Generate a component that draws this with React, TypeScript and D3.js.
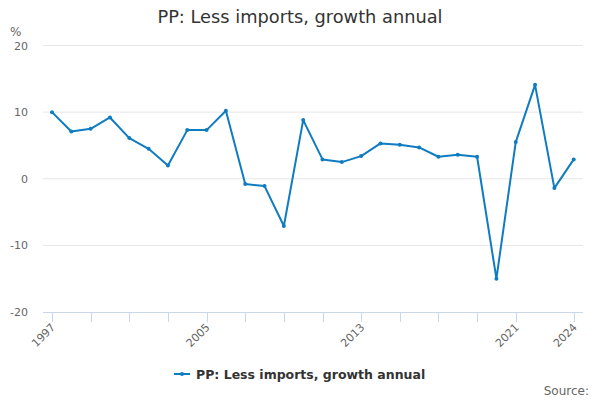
import React from "react";
import * as d3 from "d3";

const years = [1997,1998,1999,2000,2001,2002,2003,2004,2005,2006,2007,2008,2009,2010,2011,2012,2013,2014,2015,2016,2017,2018,2019,2020,2021,2022,2023,2024];
const values = [10.0,7.1,7.5,9.2,6.1,4.5,2.0,7.3,7.3,10.2,-0.8,-1.1,-7.1,8.8,2.9,2.5,3.4,5.3,5.1,4.7,3.3,3.6,3.3,-15.0,5.5,14.1,-1.4,2.9];
const yTicks = [-20,-10,0,10,20];
const xTickYears = [1997,1999,2001,2003,2005,2007,2009,2011,2013,2015,2017,2019,2021,2024];
const xLabelYears = [1997,2005,2013,2021,2024];
const title = "PP: Less imports, growth annual";
const seriesName = "PP: Less imports, growth annual";

const W = 600, H = 400;
const font = "'DejaVu Sans', sans-serif";
const color = "#0f7cc1";

export default function App() {
  const x = d3.scaleLinear().domain([1997, 2024]).range([52, 573.7]);
  const y = d3.scaleLinear().domain([-20, 20]).range([312, 45.5]);
  const line = d3.line<number>().x((_, i) => x(years[i])).y(d => y(d));
  const plotL = 43, plotR = 583;
  return (
    <svg width={W} height={H} style={{ position: "absolute", left: 0, top: 0, background: "#fff" }} fontFamily={font}>
      <text x={300} y={23} textAnchor="middle" fontSize={17.8} fill="#333">{title}</text>
      <text x={10} y={36} fontSize={12} fill="#666">%</text>
      {yTicks.map(t => (
        <g key={t}>
          {t !== -20 && <line x1={plotL} x2={plotR} y1={y(t)} y2={y(t)} stroke="#e6e6e6" strokeWidth={1} />}
          <text x={28} y={y(t) + 4} textAnchor="end" fontSize={11} fill="#666">{t}</text>
        </g>
      ))}
      <line x1={plotL} x2={plotR} y1={y(-20) + 0.5} y2={y(-20) + 0.5} stroke="#ccd6eb" strokeWidth={1} />
      {xTickYears.map(t => (
        <line key={t} x1={Math.round(x(t)) + 0.5} x2={Math.round(x(t)) + 0.5} y1={y(-20)} y2={y(-20) + 10} stroke="#ccd6eb" strokeWidth={1} />
      ))}
      {xLabelYears.map(t => (
        <text key={t} transform={`translate(${x(t) + 4},${y(-20) + 16}) rotate(-45)`} textAnchor="end" fontSize={11} fill="#666">{t}</text>
      ))}
      <path d={line(values) || ""} fill="none" stroke={color} strokeWidth={2} strokeLinejoin="round" />
      {values.map((v, i) => (
        <circle key={i} cx={x(years[i])} cy={y(v)} r={2} fill={color} />
      ))}
      <g>
        <line x1={174} x2={190} y1={374} y2={374} stroke={color} strokeWidth={2} />
        <circle cx={182} cy={374} r={2} fill={color} />
        <text x={196} y={378.5} fontSize={12.5} fontWeight="bold" fill="#333">{seriesName}</text>
      </g>
      <text x={589} y={395} textAnchor="end" fontSize={12} fill="#666">Source:</text>
    </svg>
  );
}
